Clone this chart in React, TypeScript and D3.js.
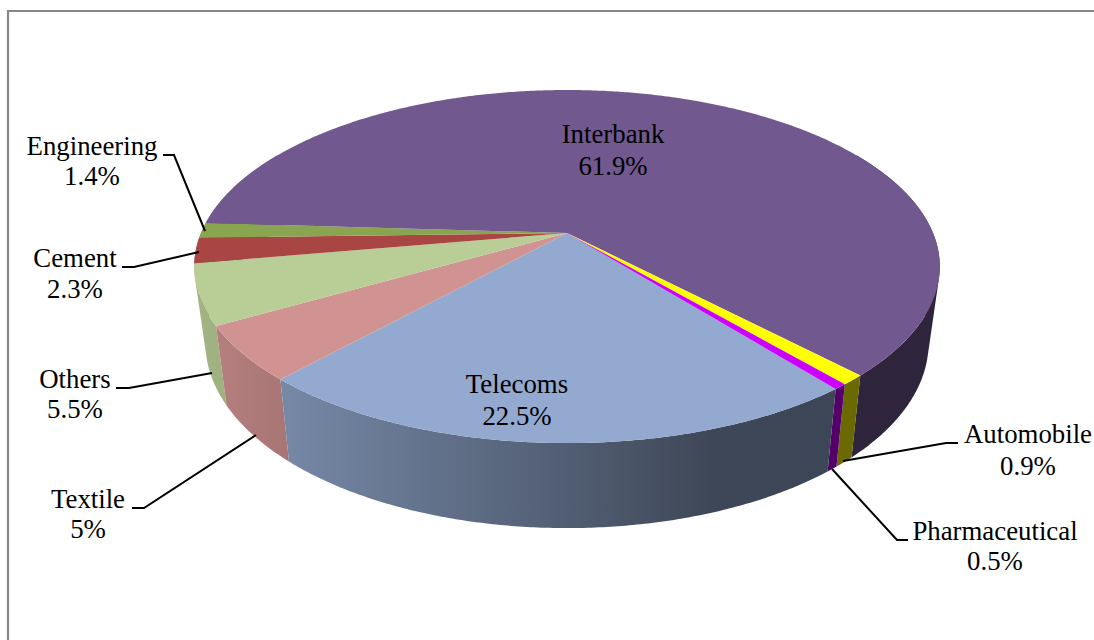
import React from "react";
import * as d3 from "d3";

// Sector shares, in drawing order clockwise from the front-facing Telecoms slice.
const sectors = ["Telecoms", "Textile", "Others", "Cement", "Engineering", "Interbank", "Automobile", "Pharmaceutical"];
const shares = [22.5, 5, 5.5, 2.3, 1.4, 61.9, 0.9, 0.5];
const shareLabels = ["22.5%", "5%", "5.5%", "2.3%", "1.4%", "61.9%", "0.9%", "0.5%"];
const faceColors = ["#93a9cf", "#d19392", "#b9cd96", "#a94644", "#8aa54f", "#71588f", "#ffff00", "#cc00ff"];

// Label anchors: centre x, first and second baselines.
const labelX = [517, 88, 75, 75, 92, 613, 1028, 995];
const labelY1 = [393, 508, 388, 267, 155, 143, 443, 540];
const labelY2 = [425, 538, 418, 298, 185, 175, 475, 570];

// Leader lines from label to slice edge; Telecoms and Interbank sit on their slices.
const leaders: ([number, number][] | null)[] = [
  null,
  [[132, 508], [144, 508], [256, 435]],
  [[116, 388], [129, 388], [212, 373]],
  [[122, 267], [134, 267], [199, 252]],
  [[163, 155], [174, 155], [205, 231]],
  null,
  [[958, 443], [946, 443], [843, 461]],
  [[908, 540], [897, 540], [832, 469]],
];

const width = 1094;
const height = 640;
const centerX = 567;
const apexY = 233;
const radius = 366;
const tilt = -0.19;
const yGain = 125.9;
const startDeg = 141.3;

// Perspective projection of a unit-circle point on the pie's top face.
function topPoint(theta: number): [number, number] {
  const u = Math.sin(theta);
  const v = -Math.cos(theta);
  const w = 1 + tilt * v;
  return [centerX + (radius * u) / w, (apexY + yGain * v) / w];
}

// Matching point on the lower rim: slightly narrower and pushed down by the wall depth.
function bottomPoint(theta: number): [number, number] {
  const [x, y] = topPoint(theta);
  const v = -Math.cos(theta);
  return [centerX + (x - centerX) * 0.97, y + 74 + 11 * v];
}

// Wall lighting falls off left to right, then stays flat past the darkest point.
const wallShade = d3.scaleLinear().domain([200, 715, 940]).range([0.88, 0.42, 0.41]);

function shaded(color: string, x: number): string {
  const c = d3.rgb(color);
  const f = wallShade(x);
  return d3.rgb(c.r * f, c.g * f, c.b * f).formatHex();
}

const line = d3.line();

function arcSamples(a0: number, a1: number): number[] {
  const n = Math.max(2, Math.ceil((a1 - a0) / (Math.PI / 360)));
  return d3.range(n + 1).map((i) => a0 + ((a1 - a0) * i) / n);
}

// Wall of one slice as a union of consistently wound quads, which also fills the silhouette at the rim's ends.
function wallPath(a0: number, a1: number): string {
  const windows: [number, number][] = [
    [(60 * Math.PI) / 180, (300 * Math.PI) / 180],
    [(420 * Math.PI) / 180, (660 * Math.PI) / 180],
  ];
  let out = "";
  for (const [w0, w1] of windows) {
    const s = Math.max(a0, w0);
    const e = Math.min(a1, w1);
    if (e <= s) continue;
    const ts = arcSamples(s, e);
    for (let i = 0; i < ts.length - 1; i++) {
      let quad: [number, number][] = [topPoint(ts[i]), topPoint(ts[i + 1]), bottomPoint(ts[i + 1]), bottomPoint(ts[i])];
      if (d3.polygonArea(quad) < 0) quad = quad.reverse();
      out += line(quad) + "Z";
    }
  }
  return out;
}

function facePath(a0: number, a1: number): string {
  const pts: [number, number][] = [[centerX, apexY], ...arcSamples(a0, a1).map(topPoint)];
  return line(pts) + "Z";
}

const pieLayout = d3
  .pie<number>()
  .sort(null)
  .startAngle((startDeg * Math.PI) / 180)
  .endAngle((startDeg * Math.PI) / 180 + 2 * Math.PI);

export default function App() {
  const arcs = pieLayout(shares);
  const wallOrder = arcs
    .map((a, i) => ({ a, i }))
    .sort((p, q) => {
      const mid = (d: d3.PieArcDatum<number>) => {
        const m = ((d.startAngle + d.endAngle) / 2) % (2 * Math.PI);
        return Math.abs(m - Math.PI);
      };
      return mid(q.a) - mid(p.a);
    });
  const font = "'Liberation Serif', 'Times New Roman', serif";
  return (
    <svg
      width={width}
      height={height}
      viewBox={`0 0 ${width} ${height}`}
      style={{ position: "absolute", left: 0, top: 0, display: "block", background: "#fff" }}
    >
      <defs>
        {faceColors.map((c, i) => (
          <linearGradient key={i} id={`wall-${i}`} gradientUnits="userSpaceOnUse" x1={200} x2={940} y1={0} y2={0}>
            {wallShade.domain().map((x) => (
              <stop key={x} offset={(x - 200) / 740} stopColor={shaded(c, x)} />
            ))}
          </linearGradient>
        ))}
      </defs>

      {/* Frame: only the left and top edges fall inside the canvas */}
      <path d={`M8 ${height}V11H${width}`} fill="none" stroke="#868686" strokeWidth={2.2} />

      {wallOrder.map(({ a, i }) => (
        <path key={sectors[i]} d={wallPath(a.startAngle, a.endAngle)} fill={`url(#wall-${i})`} />
      ))}

      {arcs.map((a, i) => (
        <path key={sectors[i]} d={facePath(a.startAngle, a.endAngle)} fill={faceColors[i]} />
      ))}

      {leaders.map((pts, i) =>
        pts ? <path key={i} d={line(pts) as string} fill="none" stroke="#000" strokeWidth={2} /> : null
      )}

      <g fontFamily={font} fontSize={26.8} fill="#000" textAnchor="middle">
        {sectors.map((name, i) => (
          <g key={name}>
            <text x={labelX[i]} y={labelY1[i]}>{name}</text>
            <text x={labelX[i]} y={labelY2[i]}>{shareLabels[i]}</text>
          </g>
        ))}
      </g>
    </svg>
  );
}
